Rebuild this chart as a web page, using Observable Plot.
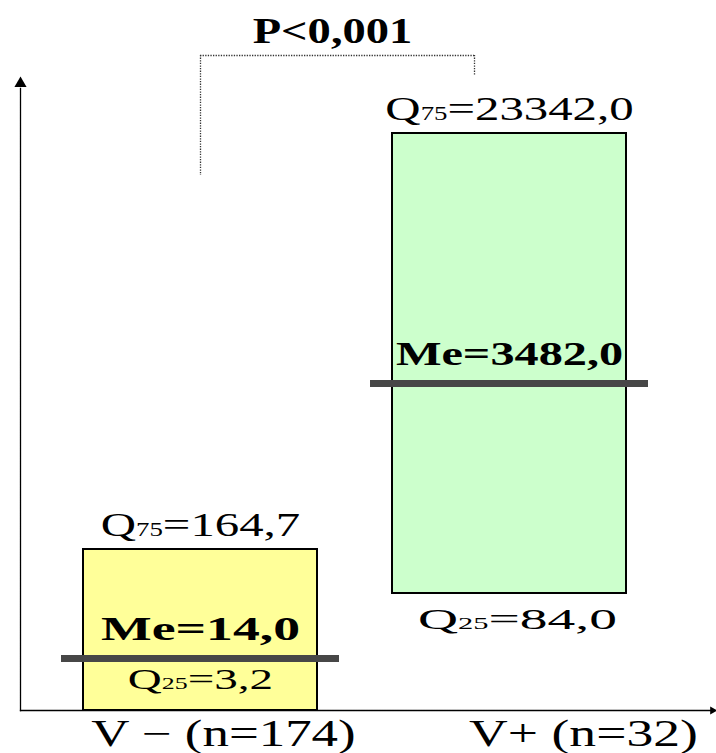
<!DOCTYPE html>
<html>
<head>
<meta charset="utf-8">
<script src="https://cdn.jsdelivr.net/npm/d3@7"></script>
<script src="https://cdn.jsdelivr.net/npm/@observablehq/plot@0.6"></script>
<style>
  html, body { margin: 0; padding: 0; background: #fff; }
  #chart svg { display: block; }
</style>
</head>
<body>
<div id="chart"></div>
<script>
// Groups and their quartiles
const groups = ["V−", "V+"];
const groupLabels = ["V − (n=174)", "V+ (n=32)"];
const q25 = [3.2, 84.0];
const median = [14.0, 3482.0];
const q75 = [164.7, 23342.0];
const pLabel = "P<0,001";
const boxColors = ["#ffff99", "#ccffcc"];

const fmt = v => v.toFixed(1).replace(".", ",");
const rows = groups.map((group, i) => ({
  group, label: groupLabels[i], q25: q25[i], median: median[i], q75: q75[i]
}));

// Schematic vertical scale: every quartile value gets its own level
const levels = [...q25, ...median, ...q75].sort((a, b) => a - b);
const levelPositions = [710, 658, 593, 549, 383, 133];
const topQ75 = d3.max(q75);

const serif = "'Liberation Serif', 'Times New Roman', serif";

// Label texts, with the horizontal glyph stretch used for each
const q75Text = d => `Q75=${fmt(d.q75)}`;
const medianText = d => `Me=${fmt(d.median)}`;
const q25Text = d => `Q25=${fmt(d.q25)}`;
const stretch = new Map([
  [pLabel, 1.33],
  [q75Text(rows[0]), 1.48], [q75Text(rows[1]), 1.48],
  [medianText(rows[0]), 1.58], [medianText(rows[1]), 1.42],
  [q25Text(rows[0]), 1.57], [q25Text(rows[1]), 1.85],
  [groupLabels[0], 1.43], [groupLabels[1], 1.45]
]);

const dotted = {stroke: "black", strokeWidth: 1.3, strokeDasharray: "1.3,1.3"};
const bracket = {stroke: "#333", strokeWidth: 1.3, strokeDasharray: "1.3,1.3"};

const chart = Plot.plot({
  width: 716,
  height: 753,
  marginTop: 88,
  marginBottom: 43,
  marginLeft: 20,
  marginRight: 4,
  style: {fontFamily: serif, background: "white"},
  x: {type: "band", domain: groups, range: [83, 627], paddingInner: 0.242, paddingOuter: 0, axis: null},
  y: {type: "linear", domain: levels, range: levelPositions, axis: null},
  color: {type: "ordinal", domain: groups, range: boxColors},
  marks: [
    // axes
    Plot.frame({anchor: "left", ...dotted}),
    Plot.frame({anchor: "bottom", ...dotted}),
    Plot.dot([null], {frameAnchor: "top-left", symbol: "triangle", r: 4.5, dy: -5, fill: "black", stroke: "none"}),
    Plot.dot([null], {frameAnchor: "bottom-right", symbol: "triangle", rotate: 90, r: 3, fill: "black", stroke: "none"}),

    // interquartile boxes and medians
    Plot.barY(rows, {x: "group", y1: "q25", y2: "q75", fill: "group", stroke: "black", strokeWidth: 2}),
    Plot.tickY(rows, {x: "group", y: "median", stroke: "#474747", strokeWidth: 7, insetLeft: -22, insetRight: -22}),

    // significance bracket above the taller box
    Plot.ruleX([rows[0]], {x: "group", y1: () => topQ75, y2: () => topQ75, insetTop: -78, insetBottom: -42, ...bracket}),
    Plot.ruleX([rows[1]], {x: "group", y1: () => topQ75, y2: () => topQ75, dx: -35, insetTop: -78, insetBottom: 58, ...bracket}),
    Plot.ruleY([topQ75], {y: d => d, x1: () => groups[0], x2: () => groups[1], dy: -78, insetLeft: 117, insetRight: 152, ...bracket}),
    Plot.text([pLabel], {frameAnchor: "top", text: d => d, lineAnchor: "bottom", dx: -34, dy: -46, fontSize: 35, fontWeight: "bold", fill: "black"}),

    // quartile labels
    Plot.text(rows, {x: "group", y: "q75", text: q75Text, lineAnchor: "bottom", dy: -14, fontSize: 33, fill: "black"}),
    Plot.text(rows, {x: "group", y: "median", text: medianText, lineAnchor: "bottom", dy: -19, fontSize: 34, fontWeight: "bold", fill: "black"}),
    Plot.text(rows.slice(0, 1), {x: "group", y: "q25", text: q25Text, lineAnchor: "bottom", dy: -22, fontSize: 30, fill: "black"}),
    Plot.text(rows.slice(1), {x: "group", y: "q25", text: q25Text, lineAnchor: "bottom", dx: 8, dy: 35, fontSize: 30, fill: "black"}),

    // group labels under the axis
    Plot.text(rows.slice(0, 1), {x: "group", frameAnchor: "bottom", text: "label", lineAnchor: "bottom", dx: 23, dy: 35, fontSize: 37, fill: "black"}),
    Plot.text(rows.slice(1), {x: "group", frameAnchor: "bottom", text: "label", lineAnchor: "bottom", dx: 74, dy: 35, fontSize: 37, fill: "black"})
  ]
});

d3.select(chart).selectAll("text").each(function () {
  const content = this.textContent;
  // wide serif lettering: stretch glyphs horizontally around each anchor
  const k = stretch.get(content);
  if (k !== undefined) {
    const tr = this.getAttribute("transform") || "";
    this.setAttribute("transform", `${tr} scale(${k},1)`);
  }
  // quartile names carry their percentile as a small index (Q75, Q25)
  const m = /^Q(\d\d)(.*)$/.exec(content);
  if (m) {
    const t = d3.select(this).text(null);
    t.append("tspan").text("Q");
    t.append("tspan").attr("font-size", "0.55em").text(m[1]);
    t.append("tspan").text(m[2]);
  }
});

document.getElementById("chart").appendChild(chart);
</script>
</body>
</html>
